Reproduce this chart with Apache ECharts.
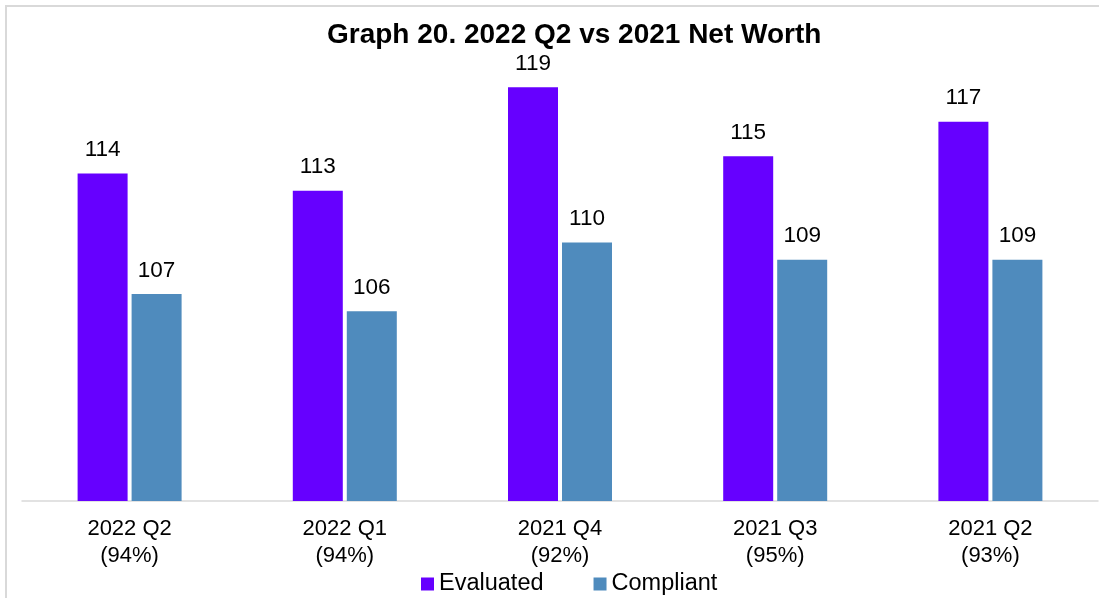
<!DOCTYPE html>
<html>
<head>
<meta charset="utf-8">
<script src="https://cdn.jsdelivr.net/npm/echarts@6/dist/echarts.min.js"></script>
<style>
  html, body { margin: 0; padding: 0; background: #fff; }
  #chart { width: 1099px; height: 598px; }
</style>
</head>
<body>
<div id="chart"></div>
<script>
// 数据
var categories = ['2022 Q2', '2022 Q1', '2021 Q4', '2021 Q3', '2021 Q2'];
var percents = ['94%', '94%', '92%', '95%', '93%'];
var evaluated = [114, 113, 119, 115, 117];
var compliant = [107, 106, 110, 109, 109];

var font = 'Arial, "Liberation Sans", sans-serif';

var chart = echarts.init(document.getElementById('chart'));

var labels = categories.map(function (c, i) {
  return c + '\n(' + percents[i] + ')';
});

var barLabel = {
  show: true,
  position: 'top',
  distance: 12,
  color: '#000',
  fontSize: 22.5,
  fontFamily: font
};

var option = {
  animation: false,
  backgroundColor: '#fff',
  title: {
    text: 'Graph 20. 2022 Q2 vs 2021 Net Worth',
    left: 322,
    top: 16,
    textStyle: { fontSize: 28, fontWeight: 'bold', color: '#000', fontFamily: font }
  },
  // 外框
  graphic: [{
    type: 'rect',
    shape: { x: 6, y: 6, width: 1200, height: 700 },
    style: { fill: 'none', stroke: '#d9d9d9', lineWidth: 2 },
    silent: true
  }],
  legend: {
    left: 421,
    top: 572,
    padding: 0,
    itemWidth: 13,
    itemHeight: 13,
    itemGap: 50,
    icon: 'rect',
    textStyle: { fontSize: 23.5, color: '#000', fontFamily: font },
    data: ['Evaluated', 'Compliant']
  },
  grid: { left: 22, right: 1, top: 70, bottom: 97, containLabel: false },
  xAxis: {
    type: 'category',
    data: labels,
    axisLine: { lineStyle: { color: '#d9d9d9', width: 1.5 } },
    axisTick: { show: false },
    axisLabel: {
      color: '#000',
      fontSize: 22,
      lineHeight: 27,
      margin: 14,
      fontFamily: font,
      interval: 0
    }
  },
  yAxis: {
    type: 'value',
    min: 95,
    max: 120,
    show: false,
    splitLine: { show: false }
  },
  series: [
    {
      name: 'Evaluated',
      type: 'bar',
      data: evaluated,
      barWidth: 50,
      barGap: '8%',
      itemStyle: { color: '#6600ff' },
      label: barLabel
    },
    {
      name: 'Compliant',
      type: 'bar',
      data: compliant,
      barWidth: 50,
      itemStyle: { color: '#4f8bbd' },
      label: barLabel
    }
  ]
};

chart.setOption(option);
window.addEventListener('resize', function () { chart.resize(); });
</script>
</body>
</html>
